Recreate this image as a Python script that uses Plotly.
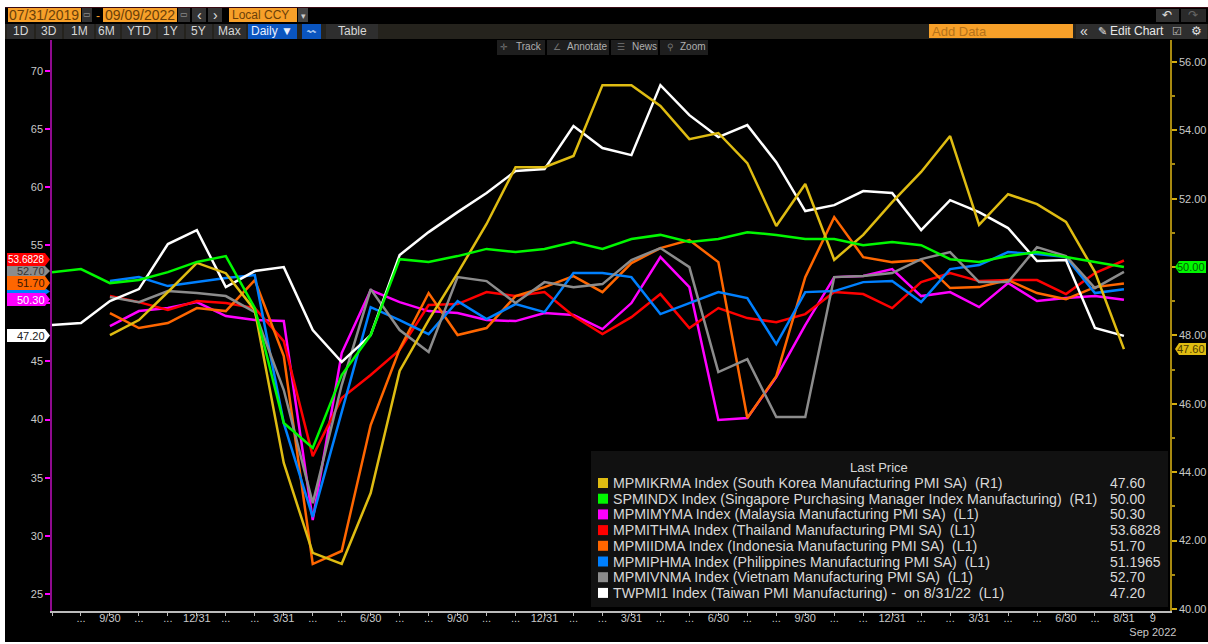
"""Bloomberg-style Asia manufacturing PMI chart, two y axes on a dark terminal frame."""
import plotly.graph_objects as go

MONTHS = ["2019-07-31", "2019-08-31", "2019-09-30", "2019-10-31", "2019-11-30", "2019-12-31",
          "2020-01-31", "2020-02-29", "2020-03-31", "2020-04-30", "2020-05-31", "2020-06-30",
          "2020-07-31", "2020-08-31", "2020-09-30", "2020-10-31", "2020-11-30", "2020-12-31",
          "2021-01-31", "2021-02-28", "2021-03-31", "2021-04-30", "2021-05-31", "2021-06-30",
          "2021-07-31", "2021-08-31", "2021-09-30", "2021-10-31", "2021-11-30", "2021-12-31",
          "2022-01-31", "2022-02-28", "2022-03-31", "2022-04-30", "2022-05-31", "2022-06-30",
          "2022-07-31", "2022-08-31", "2022-09-09"]
TICK_TEXT = ["", "...", "9/30", "...", "...", "12/31", "...", "...", "3/31", "...", "...", "6/30",
             "...", "...", "9/30", "...", "...", "12/31", "...", "...", "3/31", "...", "...", "6/30",
             "...", "...", "9/30", "...", "...", "12/31", "...", "...", "3/31", "...", "...", "6/30",
             "...", "8/31", "9<br>Sep 2022"]
# the 50 ticks sit under the price flags on both axes
LEFT_TICKS = [25, 30, 35, 40, 45, 50, 55, 60, 65, 70]
LEFT_TEXT = ["25", "30", "35", "40", "45", "", "55", "60", "65", "70"]
RIGHT_TICKS = [40, 42, 44, 46, 48, 50, 52, 54, 56]
RIGHT_TEXT = ["40.00", "42.00", "44.00", "46.00", "48.00", "", "52.00", "54.00", "56.00"]

KOREA = [None, None, 48.01, 48.45, 49.27, 50.12, 49.82, 48.74, 44.27, 41.64, 41.32, 43.39, 46.96,
         48.45, 49.82, 51.26, 52.92, 52.92, 53.25, 55.32, 55.32, 54.71, 53.74, 53.92, 53.04, 51.2,
         52.43, 50.21, 50.94, 51.9, 52.78, 53.83, 51.23, 52.13, 51.84, 51.32, 49.85, 47.6]
SINGAPORE = [49.85, 49.94, 49.53, 49.62, 49.85, 50.15, 50.32, 48.8, 45.44, 44.71, 46.84, 48.01, 50.23,
             50.15, 50.32, 50.53, 50.44, 50.53, 50.73, 50.53, 50.82, 50.94, 50.73, 50.82, 51.02, 50.94,
             50.82, 50.82, 50.64, 50.73, 50.64, 50.23, 50.15, 50.32, 50.44, 50.29, 50.15, 50.0]
MALAYSIA = [None, None, 48.04, 49.33, 49.59, 50.1, 48.9, 48.56, 48.47, 31.36, 45.72, 51.13, 50.1,
            49.33, 49.16, 48.56, 48.47, 49.16, 48.99, 47.78, 50.02, 53.97, 51.39, 39.96, 40.13, 43.66,
            48.13, 52.25, 52.34, 52.94, 50.62, 50.96, 49.67, 51.74, 50.19, 50.45, 50.62, 50.3]
THAILAND = [None, None, 50.62, 50.1, 49.42, 50.19, 50.02, 49.59, 46.75, 36.86, 41.85, 43.83, 45.98,
            49.85, 49.93, 50.96, 50.62, 50.96, 48.9, 47.35, 48.81, 50.79, 47.87, 49.59, 48.73, 48.38,
            49.07, 50.96, 50.79, 49.59, 51.82, 52.6, 51.91, 52.0, 52.0, 50.79, 52.6, 53.68]
INDONESIA = [None, None, 49.16, 47.87, 48.3, 49.59, 49.33, 52.0, 45.46, 27.58, 28.7, 39.53, 46.06,
             50.88, 47.27, 47.87, 50.62, 51.39, 52.34, 50.96, 53.46, 54.75, 55.44, 53.54, 40.13, 43.74,
             52.25, 57.41, 53.97, 53.54, 53.72, 51.31, 51.39, 52.0, 50.88, 50.36, 51.39, 51.7]
PHILIPPINES = [None, None, 51.91, 52.25, 51.48, 51.82, 52.17, 52.43, 39.7, 31.62, 40.56, 49.67, 48.56,
               47.35, 50.19, 48.64, 49.93, 49.24, 52.6, 52.6, 52.25, 49.07, 50.02, 50.96, 50.45, 46.49,
               50.96, 51.05, 51.82, 51.91, 50.1, 52.94, 53.29, 54.4, 54.23, 53.97, 50.88, 51.2]
VIETNAM = [None, None, 50.53, 50.1, 51.05, 50.88, 50.62, 49.24, 42.54, 32.82, 42.97, 51.22, 47.7,
           45.81, 52.25, 51.91, 50.02, 51.82, 51.39, 51.65, 53.72, 54.75, 53.11, 44.09, 45.2, 40.22,
           40.22, 52.25, 52.34, 52.6, 53.8, 54.4, 51.82, 51.82, 54.83, 54.06, 51.31, 52.7]
TAIWAN = [48.13, 48.3, 50.19, 51.22, 55.09, 56.29, 51.39, 52.77, 53.11, 47.7, 44.95, 47.27, 54.15,
          56.12, 57.84, 59.48, 61.37, 61.54, 65.24, 63.35, 62.74, 68.76, 66.18, 64.29, 65.32, 62.14,
          57.93, 58.44, 59.65, 59.48, 56.29, 58.87, 57.84, 56.47, 53.63, 53.72, 47.87, 47.2]

NAMES = ["MPMIKRMA Index (South Korea Manufacturing PMI SA)  (R1)",
         "SPMINDX Index (Singapore Purchasing Manager Index Manufacturing)  (R1)",
         "MPMIMYMA Index (Malaysia Manufacturing PMI SA)  (L1)",
         "MPMITHMA Index (Thailand Manufacturing PMI SA)  (L1)",
         "MPMIIDMA Index (Indonesia Manufacturing PMI SA)  (L1)",
         "MPMIPHMA Index (Philippines Manufacturing PMI SA)  (L1)",
         "MPMIVNMA Index (Vietnam Manufacturing PMI SA)  (L1)",
         "TWPMI1 Index (Taiwan PMI Manufacturing) -  on 8/31/22  (L1)"]
LAST = ["47.60", "50.00", "50.30", "53.6828", "51.70", "51.1965", "52.70", "47.20"]
SERIES = [KOREA, SINGAPORE, MALAYSIA, THAILAND, INDONESIA, PHILIPPINES, VIETNAM, TAIWAN]
AXES = ["y2", "y2", "y", "y", "y", "y", "y", "y"]
COLORS = ["#dfbc12", "#00f800", "#ff00ff", "#ff0000", "#ff6600", "#0080ff", "#8c8c8c", "#ffffff"]

W, H = 1208, 644
L, R, T, B = 52, 38, 40, 33
FONT = "Liberation Sans"
ORANGE = "#f7a029"

shapes, notes = [], []


def px(x):
    return (x - L) / (W - L - R)


def py(y):
    return 1 - (y - T) / (H - T - B)


def box(x0, y0, x1, y1, fill):
    shapes.append(dict(type="rect", xref="paper", yref="paper", x0=px(x0), x1=px(x1),
                       y0=py(y1), y1=py(y0), fillcolor=fill, line_width=0))


def label(x, y, text, color="#d0d0d0", size=12, anchor="center"):
    notes.append(dict(xref="paper", yref="paper", x=px(x), y=py(y), text=text, showarrow=False,
                      xanchor=anchor, yanchor="middle", align=anchor, borderpad=0,
                      font=dict(family=FONT, size=size, color=color)))


def tag(y0, y1, text, fill, color, right=False, size=11):
    # price flag on an axis, pointing at the plot area
    mid = (y0 + y1) / 2
    if right:
        pts = [(1206, y0), (1179, y0), (1175, mid), (1179, y1), (1206, y1)]
    else:
        pts = [(7, y0), (45, y0), (50, mid), (45, y1), (7, y1)]
    path = "M " + " L ".join(f"{px(a)} {py(b)}" for a, b in pts) + " Z"
    shapes.append(dict(type="path", xref="paper", yref="paper", path=path, fillcolor=fill, line_width=0))
    if text:
        if right:
            label(1191, mid, text, color, size)
        else:
            label(46, mid, text, color, size, "right")


# page edges
box(0, 0, W, 7, "#ffffff")
box(0, 0, 5, H, "#ffffff")
box(0, 642, W, H, "#ffffff")
box(5, 7, W, 8, "#3a0a14")

# first toolbar row
box(8, 8, 81, 22, ORANGE)
box(82, 8, 92, 22, "#333333")
label(87, 15, "▭", "#aaaaaa", 8)
label(98, 16, "-", ORANGE, 12)
box(103, 8, 177, 22, ORANGE)
box(178, 8, 190, 22, "#333333")
label(184, 15, "▭", "#aaaaaa", 8)
box(192, 8, 206, 22, "#333333")
box(208, 8, 222, 22, "#333333")
label(199, 15, "‹", "#e0e0e0", 14)
label(215, 15, "›", "#e0e0e0", 14)
box(229, 8, 297, 22, ORANGE)
box(298, 8, 308, 22, "#444444")
label(303, 16, "▾", "#cccccc", 9)
label(44, 15, "07/31/2019", "#6b3f08", 14)
label(140, 15, "09/09/2022", "#6b3f08", 14)
label(231, 15, "Local CCY", "#6b3f08", 12, "left")
box(1156, 9, 1179, 22, "#333333")
box(1181, 9, 1206, 22, "#2a2a2a")
label(1167, 15, "↶", "#e0e0e0", 12)
label(1193, 15, "↷", "#666666", 12)

# second toolbar row
box(5, 24, W, 39, "#25231d")
for x0, x1 in [(7, 34), (36, 62), (64, 94), (96, 120), (122, 156), (158, 184), (186, 212), (214, 246)]:
    box(x0, 24, x1, 39, "#2e2e2e")
for x, text in zip([21, 49, 79, 106, 139, 170, 198, 229],
                   ["1D", "3D", "1M", "6M", "YTD", "1Y", "5Y", "Max"]):
    label(x, 31, text, "#d8d8d8", 12)
box(248, 24, 297, 39, "#0a55c0")
label(272, 31, "Daily ▼", "#e8f0ff", 12)
box(302, 24, 321, 39, "#0a55c0")
label(311, 31, "〰", "#a8c8f0", 9)
box(326, 24, 378, 39, "#2e2e2e")
label(352, 31, "Table", "#d8d8d8", 12)
box(929, 24, 1073, 38, ORANGE)
label(931, 31, "Add Data", "#b5721a", 13, "left")
box(1076, 24, 1207, 39, "#2e2e2e")
label(1084, 31, "«", "#e0e0e0", 14)
label(1102, 31, "✎", "#e0e0e0", 11)
label(1137, 31, "Edit Chart", "#e8e8e8", 12)
label(1177, 31, "☑", "#c0c0c0", 11)
label(1196, 31, "⚙", "#e0e0e0", 12)

# chart tools
for x0, x1 in [(497, 545), (547, 609), (611, 658), (660, 708)]:
    box(x0, 40, x1, 55, "#1e1e1e")
label(504, 47, "✛", "#777777", 9)
label(529, 47, "Track", "#b0b0b0", 10)
label(557, 47, "∠", "#777777", 9)
label(587, 47, "Annotate", "#b0b0b0", 10)
label(621, 47, "☰", "#777777", 9)
label(644, 47, "News", "#b0b0b0", 10)
label(670, 47, "⚲", "#777777", 9)
label(693, 47, "Zoom", "#b0b0b0", 10)

# axis price flags, last drawn on top
tag(288, 295, "", COLORS[5], "#ffffff")
tag(266, 276, "52.70", COLORS[6], "#333333")
tag(276, 290, "51.70", COLORS[4], "#3a1500")
tag(253, 266, "53.6828", COLORS[3], "#ffffff", size=10)
tag(293, 306, "50.30", COLORS[2], "#ffffff")
tag(329, 342, "47.20", COLORS[7], "#222222")
tag(261, 273, "50.00", COLORS[1], "#045a04", right=True)
tag(343, 355, "47.60", COLORS[0], "#4a3a00", right=True)

# legend panel
box(591, 451, 1168, 607, "#111111")
label(879, 467, "Last Price", "#d8d8d8", 13)
for i, name in enumerate(NAMES):
    y = 483 + i * 15.7
    box(598, y - 5, 608, y + 5, COLORS[i])
    label(612, y, name, "#d8d8d8", 14.2, "left")
    label(1109, y, LAST[i], "#d8d8d8", 14, "left")

fig = go.Figure()
for values, name, axis, color in zip(SERIES, NAMES, AXES, COLORS):
    fig.add_trace(go.Scatter(x=MONTHS[:len(values)], y=values, name=name, yaxis=axis, mode="lines",
                             line=dict(color=color, width=2.5), connectgaps=False, showlegend=False))

fig.update_layout(
    width=W, height=H, margin=dict(l=L, r=R, t=T, b=B, autoexpand=False),
    paper_bgcolor="#000000", plot_bgcolor="#000000",
    font=dict(family=FONT, size=11, color="#c8c8c8"), showlegend=False, shapes=shapes, annotations=notes,
    xaxis=dict(type="category", categoryorder="array", categoryarray=MONTHS, range=[0, 38.59],
               tickmode="array", tickvals=MONTHS, ticktext=TICK_TEXT, ticks="outside", ticklen=3,
               ticklabelstandoff=-7, tickcolor="#bbbbbb", showline=True, linecolor="#bbbbbb", linewidth=1.5,
               automargin=False, showgrid=False, zeroline=False, tickangle=0,
               tickfont=dict(size=11, color="#c8c8c8")),
    yaxis=dict(range=[23.54, 72.64], tickmode="array", tickvals=LEFT_TICKS, ticktext=LEFT_TEXT,
               ticks="outside", ticklen=5, tickwidth=2, tickcolor="#ff00ff", showline=True,
               linecolor="#8f0a8f", linewidth=1.5, automargin=False, showgrid=False, zeroline=False,
               tickfont=dict(size=11, color="#c8c8c8")),
    yaxis2=dict(range=[39.94, 56.64], overlaying="y", side="right", tickmode="array",
                tickvals=RIGHT_TICKS, ticktext=RIGHT_TEXT, ticks="outside", ticklen=5, tickwidth=2,
                tickcolor="#d4ad10", automargin=False,
                minor=dict(dtick=1, ticklen=3, ticks="outside", tickcolor="#a88a10"),
                showline=True, linecolor="#a88a10", linewidth=1.5, showgrid=False, zeroline=False,
                tickfont=dict(size=11, color="#c8c8c8")),
)

fig.write_html("out.html", config=dict(displayModeBar=False),
               post_script="document.body.style.margin='0';document.body.style.overflow='hidden';")
